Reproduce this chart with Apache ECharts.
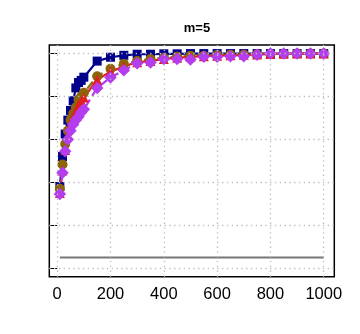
<!DOCTYPE html>
<html><head><meta charset="utf-8">
<script src="https://cdn.jsdelivr.net/npm/echarts@6/dist/echarts.min.js"></script>
<style>html,body{margin:0;padding:0;background:#fff}#c{width:360px;height:334px}</style>
</head><body><div id="c"></div>
<script>
var xs = [10,20,30,40,50,60,70,80,90,100,150,200,250,300,350,400,450,500,550,600,650,700,750,800,850,900,950,1000];
var blue   = [0.38,0.52,0.625,0.69,0.735,0.78,0.84,0.865,0.875,0.89,0.965,0.983,0.992,0.997,0.997,0.999,0.999,1,1,1,1,1,1,1,1,1,1,1];
var brown  = [0.37,0.483,0.578,0.64,0.69,0.72,0.75,0.785,0.80,0.817,0.894,0.929,0.952,0.965,0.975,0.98,0.985,0.99,0.99,0.993,0.995,0.995,0.997,0.998,0.999,1,1,1];
var red    = [0.35,0.455,0.55,0.62,0.665,0.70,0.73,0.76,0.78,0.795,0.878,0.916,0.94,0.96,0.965,0.975,0.98,0.985,0.988,0.99,0.992,0.994,0.996,0.998,0.999,1,1,1];
var purple = [0.345,0.445,0.545,0.60,0.64,0.67,0.69,0.705,0.725,0.74,0.84,0.888,0.922,0.955,0.958,0.975,0.975,0.972,0.985,0.985,0.988,0.988,0.995,1,1,1,1,1];
var alphaLine = [[10,0.05],[1000,0.05]];
var xTicks = [0,200,400,600,800,1000];
var yTicks = [0,0.2,0.4,0.6,0.8,1.0];
var title = 'm=5';

function pairs(ys){ return xs.map(function(x,i){ return [x, ys[i]]; }); }

var chart = echarts.init(document.getElementById('c'), null, {renderer:'canvas'});
var font = 'Liberation Sans, Arial, Helvetica, sans-serif';
var gridLine = {color:'#bbbbbb', width:1.3, type:[1.3,3.5]};
var mkX = xTicks.map(function(v){ return {xAxis:v}; });
var mkY = yTicks.map(function(v){ return {yAxis:v}; });

function ser(name, ys, color, symbol, size, ltype){
  return {name:name, type:'line', data:pairs(ys), symbol:symbol, symbolSize:size,
    lineStyle:{color:color, width:2.2, type:ltype}, itemStyle:{color:color},
    animation:false, silent:true, z:3};
}

chart.setOption({
  animation:false,
  title:{text:title, left:192, top:17, textAlign:'center',
    textStyle:{fontFamily:font, fontSize:13, fontWeight:'bold', color:'#000'}},
  grid:{left:49.3, right:25.7, top:45, bottom:57.3, show:true, borderColor:'#000', borderWidth:1.5, backgroundColor:'transparent'},
  xAxis:{type:'value', min:-29.6, max:1039.6,
    axisLine:{show:false}, splitLine:{show:false}, axisTick:{show:false},
    axisLabel:{customValues:xTicks, formatter:function(v){ return String(v); }, fontFamily:font, fontSize:16.5, color:'#000', margin:9}},
  yAxis:{type:'value', min:-0.04, max:1.04,
    axisLine:{show:false}, splitLine:{show:false},
    axisTick:{show:true, customValues:yTicks, length:7, lineStyle:{color:'#000', width:1}},
    axisLabel:{show:false}},
  series:[
    {type:'line', data:[], silent:true, z:1,
      markLine:{symbol:'none', silent:true, label:{show:false}, animation:false,
        lineStyle:gridLine, data:mkX.concat(mkY)}},
    {type:'line', data:alphaLine, symbol:'none', lineStyle:{color:'#777777', width:2}, z:2, silent:true},
    ser('a', blue, '#00008B', 'rect', 9, 'solid'),
    ser('b', brown, '#8B6508', 'circle', 10, 'dashed'),
    ser('c', red, '#E02020', 'triangle', 10, 'solid'),
    ser('d', purple, '#B53DF0', 'diamond', 12.5, 'dashed')
  ]
});
</script></body></html>
